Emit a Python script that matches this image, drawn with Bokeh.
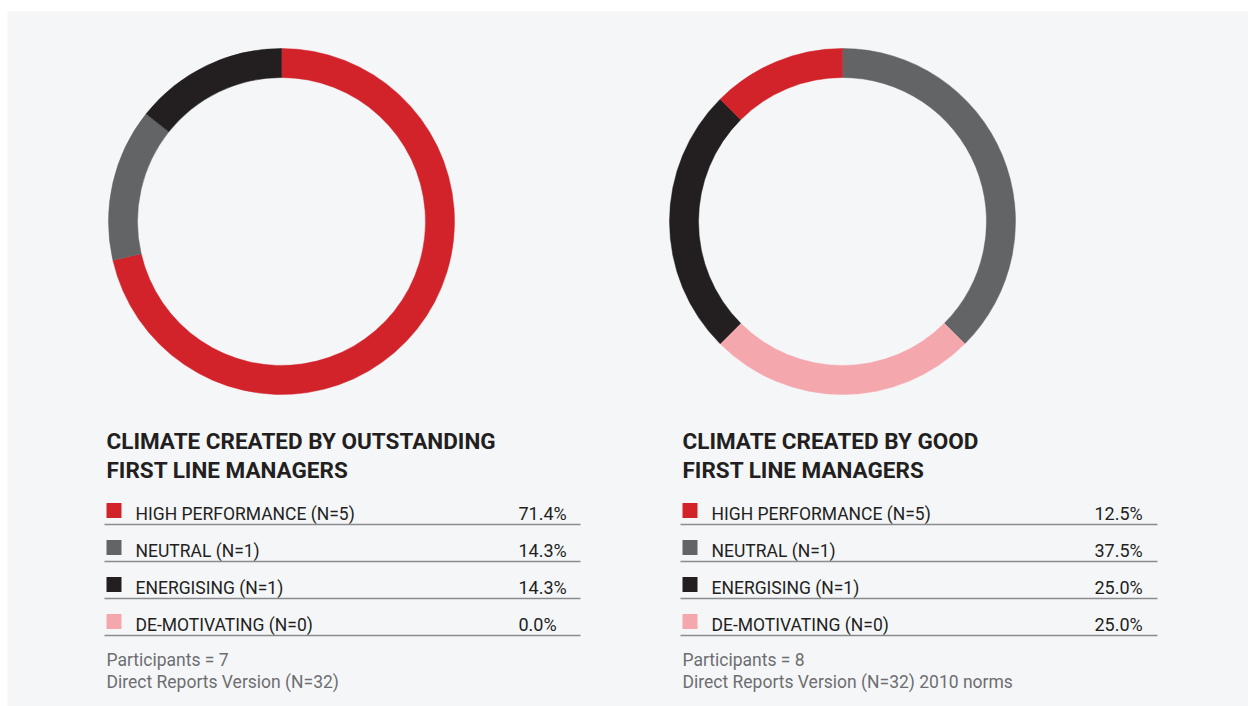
import math
from bokeh.plotting import figure
from bokeh.models import Range1d, ColumnDataSource
from bokeh.core.properties import value
from bokeh.embed import file_html
from bokeh.resources import INLINE

# ---- data ----
categories = ["HIGH PERFORMANCE (N=5)", "NEUTRAL (N=1)", "ENERGISING (N=1)", "DE-MOTIVATING (N=0)"]
colors = ["#d2232a", "#636466", "#231f20", "#f4a7ad"]

titles_1 = ["CLIMATE CREATED BY OUTSTANDING", "FIRST LINE MANAGERS"]
values_1 = [71.4, 14.3, 14.3, 0.0]
ring_order_1 = [0, 3, 1, 2]          # clockwise from 12 o'clock
notes_1 = ["Participants = 7", "Direct Reports Version (N=32)"]

titles_2 = ["CLIMATE CREATED BY GOOD", "FIRST LINE MANAGERS"]
values_2 = [12.5, 37.5, 25.0, 25.0]
ring_order_2 = [1, 3, 2, 0]          # clockwise from 12 o'clock
notes_2 = ["Participants = 8", "Direct Reports Version (N=32) 2010 norms"]

W, H = 1248, 706
p = figure(width=W, height=H, x_range=Range1d(0, W), y_range=Range1d(0, H),
           output_backend="svg", toolbar_location=None, min_border=0,
           x_axis_type=None, y_axis_type=None)
p.grid.visible = False
p.outline_line_color = None
p.background_fill_color = "white"
p.border_fill_color = "white"

def Y(y):
    return H - y

# panel
p.quad(left=7, right=W, bottom=Y(706), top=Y(11), fill_color="#f5f6f8", line_color=None)

TXT = "#231f20"
FONT = "Roboto"

def draw_panel(cx, left, right, val_x, titles, values, order, notes):
    # donut
    total = sum(values)
    c = 0.0
    starts, ends, cols = [], [], []
    for i in order:
        v = values[i]
        if v <= 0:
            continue
        a0 = math.pi / 2 - 2 * math.pi * c / total
        c += v
        a1 = math.pi / 2 - 2 * math.pi * c / total
        starts.append(a0); ends.append(a1); cols.append(colors[i])
    src = ColumnDataSource(dict(x=[cx] * len(starts), y=[Y(221)] * len(starts),
                                s=starts, e=ends, c=cols))
    p.annular_wedge(x="x", y="y", inner_radius=144, outer_radius=173,
                    start_angle="s", end_angle="e", direction="clock",
                    fill_color="c", line_color="c", line_width=0.5, source=src)
    # title
    p.text(x=[left + 1] * len(titles), y=[Y(440 + 29 * k) for k in range(len(titles))],
           text=titles, text_font=value(FONT), text_font_style="bold",
           text_font_size="22.5px", text_color=TXT, text_baseline="middle",
           text_align="left")
    # legend rows
    n = len(categories)
    row_y = [512 + 37 * k for k in range(n)]
    p.rect(x=[left + 8.5] * n, y=[Y(y - 2) for y in row_y], width=15, height=15,
           fill_color=colors, line_color=None)
    p.text(x=[left + 30] * n, y=[Y(y + 1) for y in row_y], text=categories,
           text_font=value(FONT), text_font_size="17.5px", text_color=TXT,
           text_baseline="middle", text_align="left")
    p.text(x=[val_x] * n, y=[Y(y + 1) for y in row_y],
           text=["%.1f%%" % v for v in values],
           text_font=value(FONT), text_font_size="18px", text_color=TXT,
           text_baseline="middle", text_align="left")
    p.segment(x0=[left - 1] * n, x1=[right] * n, y0=[Y(y + 12) for y in row_y],
              y1=[Y(y + 12) for y in row_y], line_color="#8a8b8d", line_width=1.5)
    # notes
    p.text(x=[left + 1] * len(notes), y=[Y(659 + 22 * k) for k in range(len(notes))],
           text=notes, text_font=value(FONT), text_font_size="17.5px",
           text_color="#6d6e71", text_baseline="middle", text_align="left")

draw_panel(281, 105, 580, 518, titles_1, values_1, ring_order_1, notes_1)
draw_panel(842, 681, 1157, 1094, titles_2, values_2, ring_order_2, notes_2)

open("out.html", "w").write(file_html(p, INLINE))
